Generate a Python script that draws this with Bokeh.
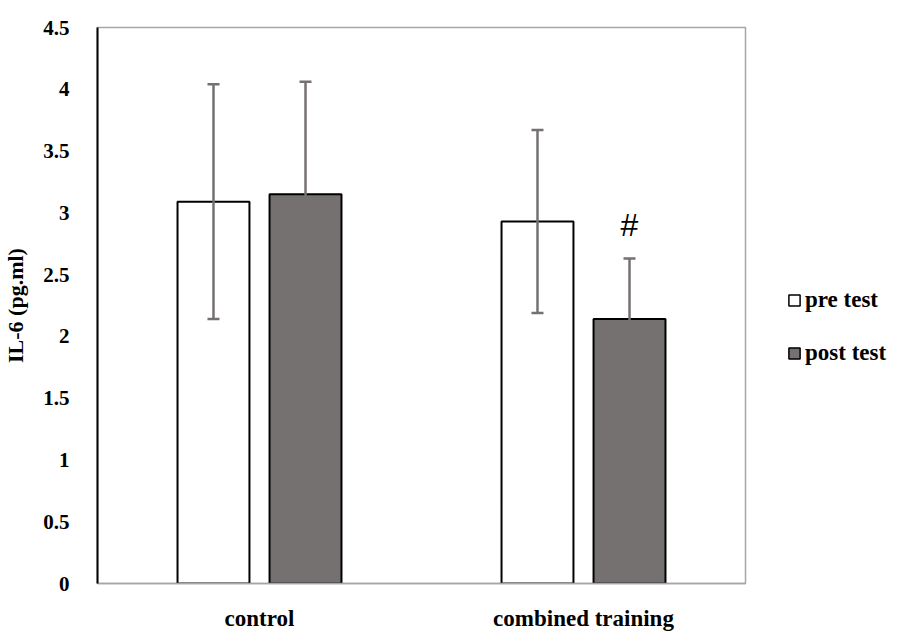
from bokeh.plotting import figure
from bokeh.layouts import row
from bokeh.models import ColumnDataSource, FactorRange, Whisker, TeeHead, Legend, LegendItem, Range1d
from bokeh.transform import dodge
from bokeh.core.properties import value
from bokeh.embed import file_html
from bokeh.resources import INLINE

categories = ["control", "combined training"]
series_names = ["pre test", "post test"]
pre_test = [3.09, 2.93]
post_test = [3.15, 2.14]
pre_upper = [4.04, 3.67]
pre_lower = [2.14, 2.19]
post_upper = [4.06, 2.63]
post_lower = [2.24, 1.65]
y_ticks = [0, 0.5, 1, 1.5, 2, 2.5, 3, 3.5, 4, 4.5]
y_tick_labels = ["0", "0.5", "1", "1.5", "2", "2.5", "3", "3.5", "4", "4.5"]
mark_category = ["combined training"]
mark_y = [2.9]
mark_text = ["#"]

FONT = "Liberation Serif"
GRAY = "#767171"
FILLS = ["white", GRAY]

src = ColumnDataSource(dict(cat=categories, pre=pre_test, post=post_test,
                            pre_up=pre_upper, pre_lo=pre_lower,
                            post_up=post_upper, post_lo=post_lower))

p = figure(x_range=FactorRange(*categories, range_padding=0), y_range=Range1d(0, 4.5),
           width=747, height=633, output_backend="svg", toolbar_location=None,
           min_border_left=97, min_border_top=27, min_border_right=2, min_border_bottom=43)

off = 0.142
w = 0.222
p.vbar(x=dodge("cat", -off, range=p.x_range), top="pre", width=w, source=src,
       fill_color=FILLS[0], line_color="black", line_width=2)
p.vbar(x=dodge("cat", off, range=p.x_range), top="post", width=w, source=src,
       fill_color=FILLS[1], line_color="black", line_width=2)

for base_off, up, lo in [(-off, "pre_up", "pre_lo"), (off, "post_up", "post_lo")]:
    wh = Whisker(source=src, base=dodge("cat", base_off, range=p.x_range), upper=up, lower=lo,
                 line_color=GRAY, line_width=2.5, level="overlay",
                 upper_head=TeeHead(size=12, line_color=GRAY, line_width=2.5),
                 lower_head=TeeHead(size=12, line_color=GRAY, line_width=2.5))
    p.add_layout(wh)

msrc = ColumnDataSource(dict(cat=mark_category, y=mark_y, t=mark_text))
p.text(x=dodge("cat", off, range=p.x_range), y="y", text="t", source=msrc,
       text_font=value("Liberation Sans"), text_font_size="32px",
       text_align="center", text_baseline="middle", text_color="black")

p.xgrid.visible = False
p.ygrid.visible = False
p.outline_line_color = "#a6a6a6"
p.outline_line_width = 1.5

p.yaxis.ticker = y_ticks
p.yaxis.major_label_overrides = {t: l for t, l in zip(y_ticks, y_tick_labels)}
p.yaxis.major_tick_line_color = None
p.yaxis.minor_tick_line_color = None
p.yaxis.axis_line_color = "black"
p.yaxis.axis_line_width = 2
p.yaxis.major_label_standoff = 22
p.yaxis.major_label_text_font = FONT
p.yaxis.major_label_text_font_style = "bold"
p.yaxis.major_label_text_font_size = "21px"
p.yaxis.major_label_text_color = "black"
p.yaxis.axis_label = "IL-6 (pg.ml)"
p.yaxis.axis_label_text_font = FONT
p.yaxis.axis_label_text_font_style = "bold"
p.yaxis.axis_label_text_font_size = "22px"
p.yaxis.axis_label_text_color = "black"
p.yaxis.axis_label_standoff = 12

p.xaxis.major_tick_line_color = None
p.xaxis.axis_line_color = "#a6a6a6"
p.xaxis.axis_line_width = 1.5
p.xaxis.major_label_standoff = 16
p.xaxis.major_label_text_font = FONT
p.xaxis.major_label_text_font_style = "bold"
p.xaxis.major_label_text_font_size = "23px"
p.xaxis.major_label_text_color = "black"

# legend panel (separate figure so it sits outside the plot frame)
lg = figure(width=159, height=633, output_backend="svg", toolbar_location=None,
            x_axis_type=None, y_axis_type=None, min_border=0,
            x_range=Range1d(0, 1), y_range=Range1d(0, 1))
lg.outline_line_color = None
lg.xgrid.visible = False
lg.ygrid.visible = False
lg.background_fill_color = None
lg.border_fill_color = None
# swatch renderers: a NaN point is not drawn, but gives the legend its glyph styles
swatch = ColumnDataSource(dict(x=[float("nan")], top=[float("nan")]))
items = []
for name, fill in zip(series_names, FILLS):
    r = lg.vbar(x="x", top="top", width=0.1, source=swatch,
                fill_color=fill, line_color="black", line_width=1.5)
    items.append(LegendItem(label=name, renderers=[r]))
legend = Legend(items=items, location=(40, 217), border_line_color=None, background_fill_alpha=0,
                glyph_width=14, glyph_height=14, spacing=27, padding=0, margin=0,
                label_text_font=FONT, label_text_font_size="23px", label_text_font_style="bold",
                label_text_color="black", label_standoff=4, label_height=22)
lg.add_layout(legend)

layout = row(p, lg)
open("out.html", "w").write(file_html(layout, INLINE))
